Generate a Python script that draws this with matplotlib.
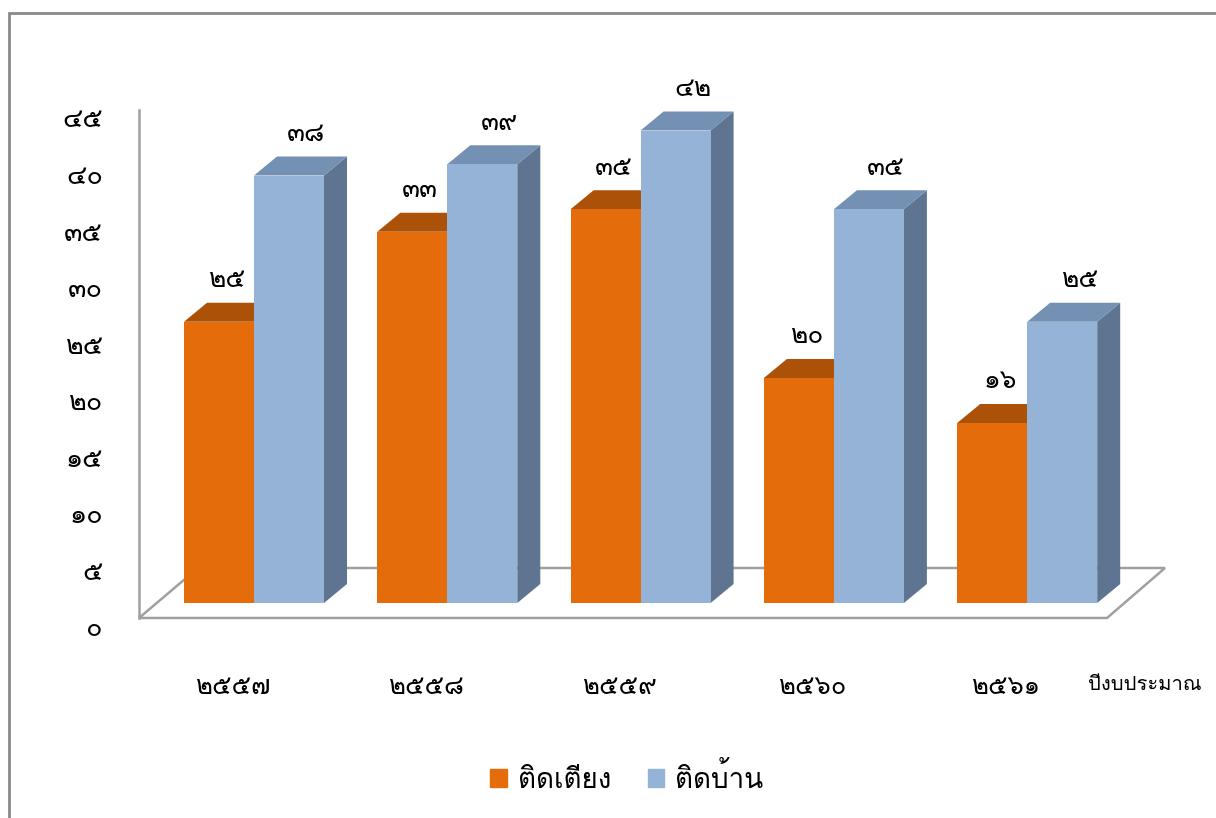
import matplotlib
matplotlib.use('Agg')
import matplotlib.pyplot as plt
from matplotlib.patches import Polygon, Rectangle, Patch
from matplotlib import font_manager, ft2font


def thai_font():
    # pick an installed font that has Thai digits
    for f in font_manager.fontManager.ttflist:
        try:
            if ft2font.FT2Font(f.fname).get_char_index(0x0E52):
                return f.name
        except Exception:
            pass
    return 'DejaVu Sans'


plt.rcParams['font.family'] = [thai_font(), 'DejaVu Sans']

years = ['๒๕๕๗', '๒๕๕๘', '๒๕๕๙', '๒๕๖๐', '๒๕๖๑']
bed = [25, 33, 35, 20, 16]
home = [38, 39, 42, 35, 25]
names = ['ติดเตียง', 'ติดบ้าน']
yticks = [0, 5, 10, 15, 20, 25, 30, 35, 40, 45]
x_title = 'ปีงบประมาณ'

th = str.maketrans('0123456789', '๐๑๒๓๔๕๖๗๘๙')

orange = '#E46C0A'
orange_top = '#AC5208'
blue = '#95B3D7'
blue_top = '#7490B2'
blue_side = '#5F7490'

W, H = 1216, 818
fig = plt.figure(figsize=(W / 100, H / 100), dpi=100)

# outer frame
fig.add_artist(Rectangle((9 / W, -0.05), 1.1, 1 - 13 / H + 0.05, transform=fig.transFigure,
                         fill=False, edgecolor='#8a8a8a', lw=2, clip_on=False))

# bar axes (px per category 193.3, px per unit 11.25)
cw, vu = 193.3, 11.25
ax = fig.add_axes([130 / W, 1 - 640 / H, 1050 / W, 550 / H])
ax.set_xlim((130 - 254) / cw, (1180 - 254) / cw)
ax.set_ylim((603 - 640) / vu, (603 - 90) / vu)
for s in ax.spines.values():
    s.set_visible(False)
ax.set_yticks([])

# floor and wall line
fy0, fy1 = (603 - 618) / vu, (603 - 568) / vu
floor = [((139 - 254) / cw, fy0), ((1107 - 254) / cw, fy0),
         ((1165 - 254) / cw, fy1), ((198 - 254) / cw, fy1)]
ax.add_patch(Polygon(floor, closed=True, fill=False, edgecolor='#a0a0a0', lw=1.8, zorder=1))
ax.plot([(139 - 254) / cw] * 2, [fy0, (603 - 110) / vu], color='#a0a0a0', lw=1.8, zorder=1)

bw = 70 / cw
dx, dy = 23 / cw, 19 / vu


def bar3d(x0, h, front, top, side):
    ax.add_patch(Polygon([(x0 + bw, 0), (x0 + bw + dx, dy), (x0 + bw + dx, h + dy), (x0 + bw, h)],
                         facecolor=side, edgecolor='none', zorder=2))
    ax.add_patch(Polygon([(x0, h), (x0 + dx, h + dy), (x0 + bw + dx, h + dy), (x0 + bw, h)],
                         facecolor=top, edgecolor='none', zorder=2))
    ax.add_patch(Rectangle((x0, 0), bw, h, facecolor=front, edgecolor='none', zorder=2))


for i in range(len(years)):
    bar3d(i - bw, bed[i], orange, orange_top, orange_top)
    bar3d(i, home[i], blue, blue_top, blue_side)
    ax.annotate(str(bed[i]).translate(th), (i - bw / 2 + 0.04, bed[i]), xytext=(0, 30),
                textcoords='offset points', ha='center', va='center', fontsize=19)
    ax.annotate(str(home[i]).translate(th), (i + bw / 2 + 0.09, home[i]), xytext=(0, 30),
                textcoords='offset points', ha='center', va='center', fontsize=19)

ax.set_xticks([i - 0.11 for i in range(len(years))])
ax.set_xticklabels(years, fontsize=18.5)
ax.tick_params(axis='x', length=0, pad=25)

# y tick labels
axl = fig.add_axes([139 / W, 1 - 627 / H, 0.001, (627 - 118) / H])
axl.set_ylim(0, 45)
axl.set_yticks(yticks)
axl.set_yticklabels([str(v).translate(th) for v in yticks], fontsize=19.5)
axl.set_xticks([])
axl.tick_params(axis='y', length=0, pad=26)
for s in axl.spines.values():
    s.set_visible(False)
axl.patch.set_visible(False)

fig.text(1088 / W, 1 - 684 / H, x_title, va='center', ha='left', fontsize=14.5)

fig.legend(handles=[Patch(color=orange), Patch(color=blue)], labels=names, loc='center',
           bbox_to_anchor=(627 / W, 1 - 778 / H), ncol=2, frameon=False, fontsize=20,
           handlelength=0.6, handleheight=0.6, columnspacing=1.3, handletextpad=0.4)

fig.savefig('out.png', dpi=100)
